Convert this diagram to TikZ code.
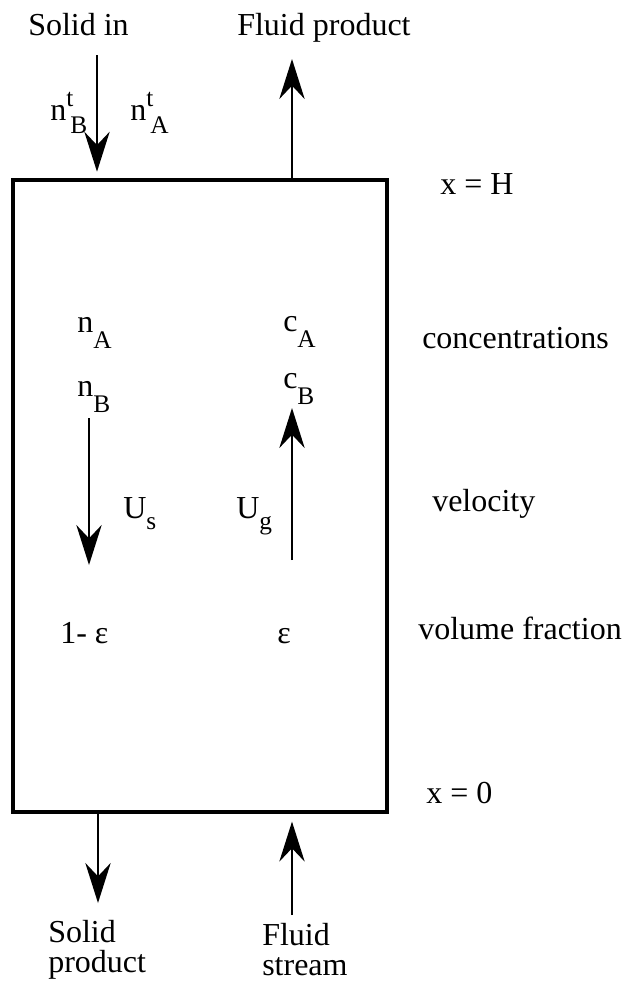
\documentclass[tikz,border=0pt]{standalone}
\usepackage{fontspec}
\setmainfont{Liberation Serif}
\usepackage{tikz}
\usetikzlibrary{positioning, arrows.meta, calc}
\newcommand\mainsz{\fontsize{24}{22.5}\selectfont}
\newcommand\subsz{\fontsize{19}{19}\selectfont}
\newcommand\lowsub[2]{#1\raisebox{-12pt}{\subsz #2}}
\newcommand\velsub[2]{#1\raisebox{-8.5pt}{\subsz #2}}
\newcommand\feedsub[3]{#1\rlap{\kern3pt\raisebox{-10pt}{\subsz #2}}\raisebox{10.5pt}{\subsz #3}}
\tikzset{
  flow/.style={-{Stealth[length=30pt, width=19pt, inset=10pt]}, line width=1.6pt},
  lbl/.style={anchor=base west, inner sep=0pt, font=\mainsz},
}

\begin{document}
\begin{tikzpicture}[x=0.75pt, y=-0.75pt]
\useasboundingbox (0,0) rectangle (624,983);
\node[draw, line width=2.4pt, inner sep=0pt, minimum width=280.5pt, minimum height=474pt] (bed) at (200,496) {};
\node[lbl] (solidin) at (28,35) {Solid in};
\node[lbl] (fluidprod) at (237,35) {Fluid product};
\node[lbl] (nbfeed) at (50,120) {\feedsub{n}{B}{t}};
\node[lbl] (nafeed) at (130,120) {\feedsub{n}{A}{t}};
\node[lbl] (xtop) at (440,194) {x = H};
\node[lbl] (na) at (77,332) {\lowsub{n}{A}};
\node[lbl] (ca) at (283,331) {\lowsub{c}{A}};
\node[lbl] (conc) at (422,348) {concentrations};
\node[lbl] (nb) at (77,396) {\lowsub{n}{B}};
\node[lbl] (cb) at (283,388) {\lowsub{c}{B}};
\node[lbl] (us) at (123,518) {\velsub{U}{s}};
\node[lbl] (ug) at (236,518) {\velsub{U}{g}};
\node[lbl] (vel) at (432,511) {velocity};
\node[lbl] (solidfrac) at (60,643) {1- ε};
\node[lbl] (fluidfrac) at (277,643) {ε};
\node[lbl] (volfrac) at (418,639) {volume fraction};
\node[lbl] (xbot) at (426,803) {x = 0};
\node[lbl, align=left] (solidprod) at (48,972) {Solid\\product};
\node[lbl, align=left] (fluidin) at (262,975) {Fluid\\stream};

\coordinate (feedtop) at (97,55);
\coordinate (prodtop) at (292,59);
\coordinate (drainbot) at (98,903);
\coordinate (supplybot) at (292,915);
\coordinate (ustop) at (89,418);
\coordinate (usbot) at (89,565);
\coordinate (ugbot) at (292,560);
\coordinate (ugtop) at (292,408);

\draw[flow, shorten >=5pt] (feedtop) -- (feedtop |- bed.north);
\draw[flow] (bed.north -| prodtop) -- (prodtop);
\draw[flow] (bed.south -| drainbot) -- (drainbot);
\draw[flow, shorten >=6pt] (supplybot) -- (supplybot |- bed.south);
\draw[flow] (ustop) -- (usbot);
\draw[flow] (ugbot) -- (ugtop);
\end{tikzpicture}
\end{document}
